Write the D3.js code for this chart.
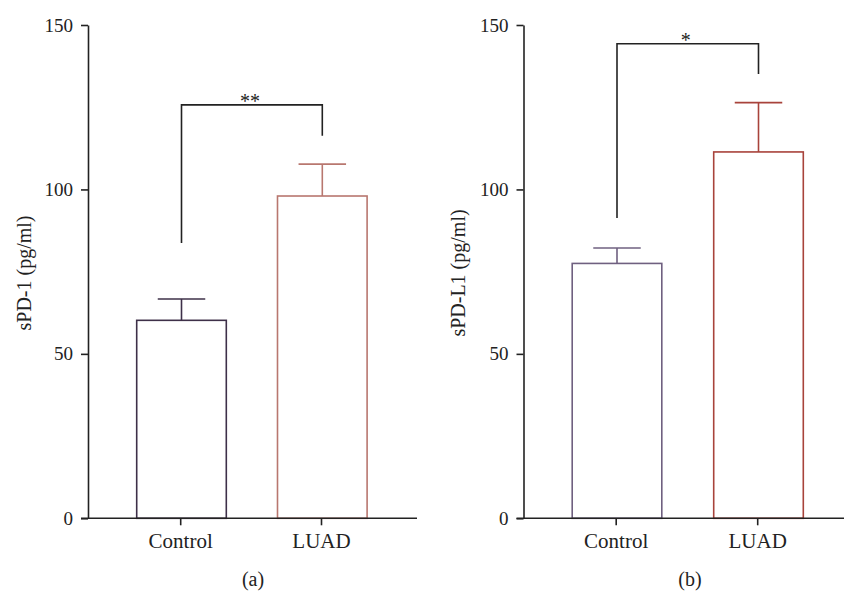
<!DOCTYPE html>
<html><head><meta charset="utf-8">
<script src="https://cdn.jsdelivr.net/npm/d3@7"></script>
<style>body{margin:0;background:#fff}svg{display:block}text{font-family:"Liberation Serif","DejaVu Serif",serif;fill:#222}</style>
</head><body>
<svg id="c" width="844" height="592"></svg>
<script>
const categories = ["Control", "LUAD"];
const sPD1Mean = [60.2, 98.0];
const sPD1Err = [66.7, 107.7];
const sPDL1Mean = [77.5, 111.4];
const sPDL1Err = [82.2, 126.4];
const yTicks = [0, 50, 100, 150];
// significance brackets: [top, left foot, right foot]
const sigA = [125.7, 83.7, 116.3];
const sigB = [144.3, 91.3, 135.1];
const panelLabels = ["(a)", "(b)"];
const yTitles = ["sPD-1 (pg/ml)", "sPD-L1 (pg/ml)"];
const stars = ["**", "*"];

const svg = d3.select("#c");
const y = d3.scaleLinear().domain([0, 150]).range([518.3, 25]);

const panels = [
  {axisX: 88, xEnd: 417, cx: [181.5, 322.3], mean: sPD1Mean, err: sPD1Err, sig: sigA,
   colors: ["#3e3049", "#b8776f"], titleX: 24, labelX: 253, star: stars[0], bracketColor: "#222"},
  {axisX: 523.5, xEnd: 844, cx: [617, 758.5], mean: sPDL1Mean, err: sPDL1Err, sig: sigB,
   colors: ["#6f6080", "#a8433b"], titleX: 458, labelX: 690, star: stars[1], bracketColor: "#222"}
];

panels.forEach((p, i) => {
  const g = svg.append("g");
  const x = d3.scaleOrdinal().domain(categories).range(p.cx);
  const bw = 89.6, cap = 47.5;

  // bars
  categories.forEach((c, j) => {
    const cx = x(c);
    g.append("rect").attr("x", cx - bw / 2).attr("y", y(p.mean[j]))
      .attr("width", bw).attr("height", y(0) - y(p.mean[j]))
      .attr("fill", "none").attr("stroke", p.colors[j]).attr("stroke-width", 1.6);
    g.append("line").attr("x1", cx).attr("x2", cx).attr("y1", y(p.mean[j])).attr("y2", y(p.err[j]))
      .attr("stroke", p.colors[j]).attr("stroke-width", 1.6);
    g.append("line").attr("x1", cx - cap / 2).attr("x2", cx + cap / 2).attr("y1", y(p.err[j])).attr("y2", y(p.err[j]))
      .attr("stroke", p.colors[j]).attr("stroke-width", 1.6);
  });

  // y axis
  const ya = g.append("g").attr("transform", `translate(${p.axisX},0)`)
    .call(d3.axisLeft(y).tickValues(yTicks).tickSize(7).tickPadding(8).tickSizeOuter(0));
  ya.select(".domain").attr("stroke", "#222").attr("stroke-width", 1.6);
  ya.selectAll(".tick line").attr("stroke", "#222").attr("stroke-width", 1.6);
  ya.selectAll(".tick text").attr("font-size", 19).attr("fill", "#222")
    .style("font-family", '"Liberation Serif",serif');

  // x axis
  g.append("line").attr("x1", p.axisX - 7).attr("x2", p.xEnd).attr("y1", y(0)).attr("y2", y(0))
    .attr("stroke", "#222").attr("stroke-width", 1.6);
  categories.forEach(c => {
    g.append("line").attr("x1", x(c) - 0.8).attr("x2", x(c) - 0.8).attr("y1", y(0)).attr("y2", y(0) + 7)
      .attr("stroke", "#222").attr("stroke-width", 1.6);
    g.append("text").attr("x", x(c) - 0.8).attr("y", y(0) + 30).attr("text-anchor", "middle")
      .attr("font-size", 21).text(c);
  });

  // y title
  g.append("text").attr("transform", `translate(${p.titleX},273) rotate(-90)`)
    .attr("text-anchor", "middle").attr("dominant-baseline", "central")
    .attr("font-size", 20).text(yTitles[i]);

  // bracket
  const [top, lf, rf] = p.sig;
  const l = x(categories[0]), r = x(categories[1]);
  g.append("path").attr("d", `M${l},${y(lf)}V${y(top)}H${r}V${y(rf)}`)
    .attr("fill", "none").attr("stroke", p.bracketColor).attr("stroke-width", 1.6);
  g.append("text").attr("x", (l + r) / 2 - 2).attr("y", y(top) + 3).attr("text-anchor", "middle")
    .attr("font-size", 20).attr("fill", "#444").text(p.star);

  // panel label
  g.append("text").attr("x", p.labelX).attr("y", 586).attr("text-anchor", "middle")
    .attr("font-size", 20).text(panelLabels[i]);
});
</script>
</body></html>
